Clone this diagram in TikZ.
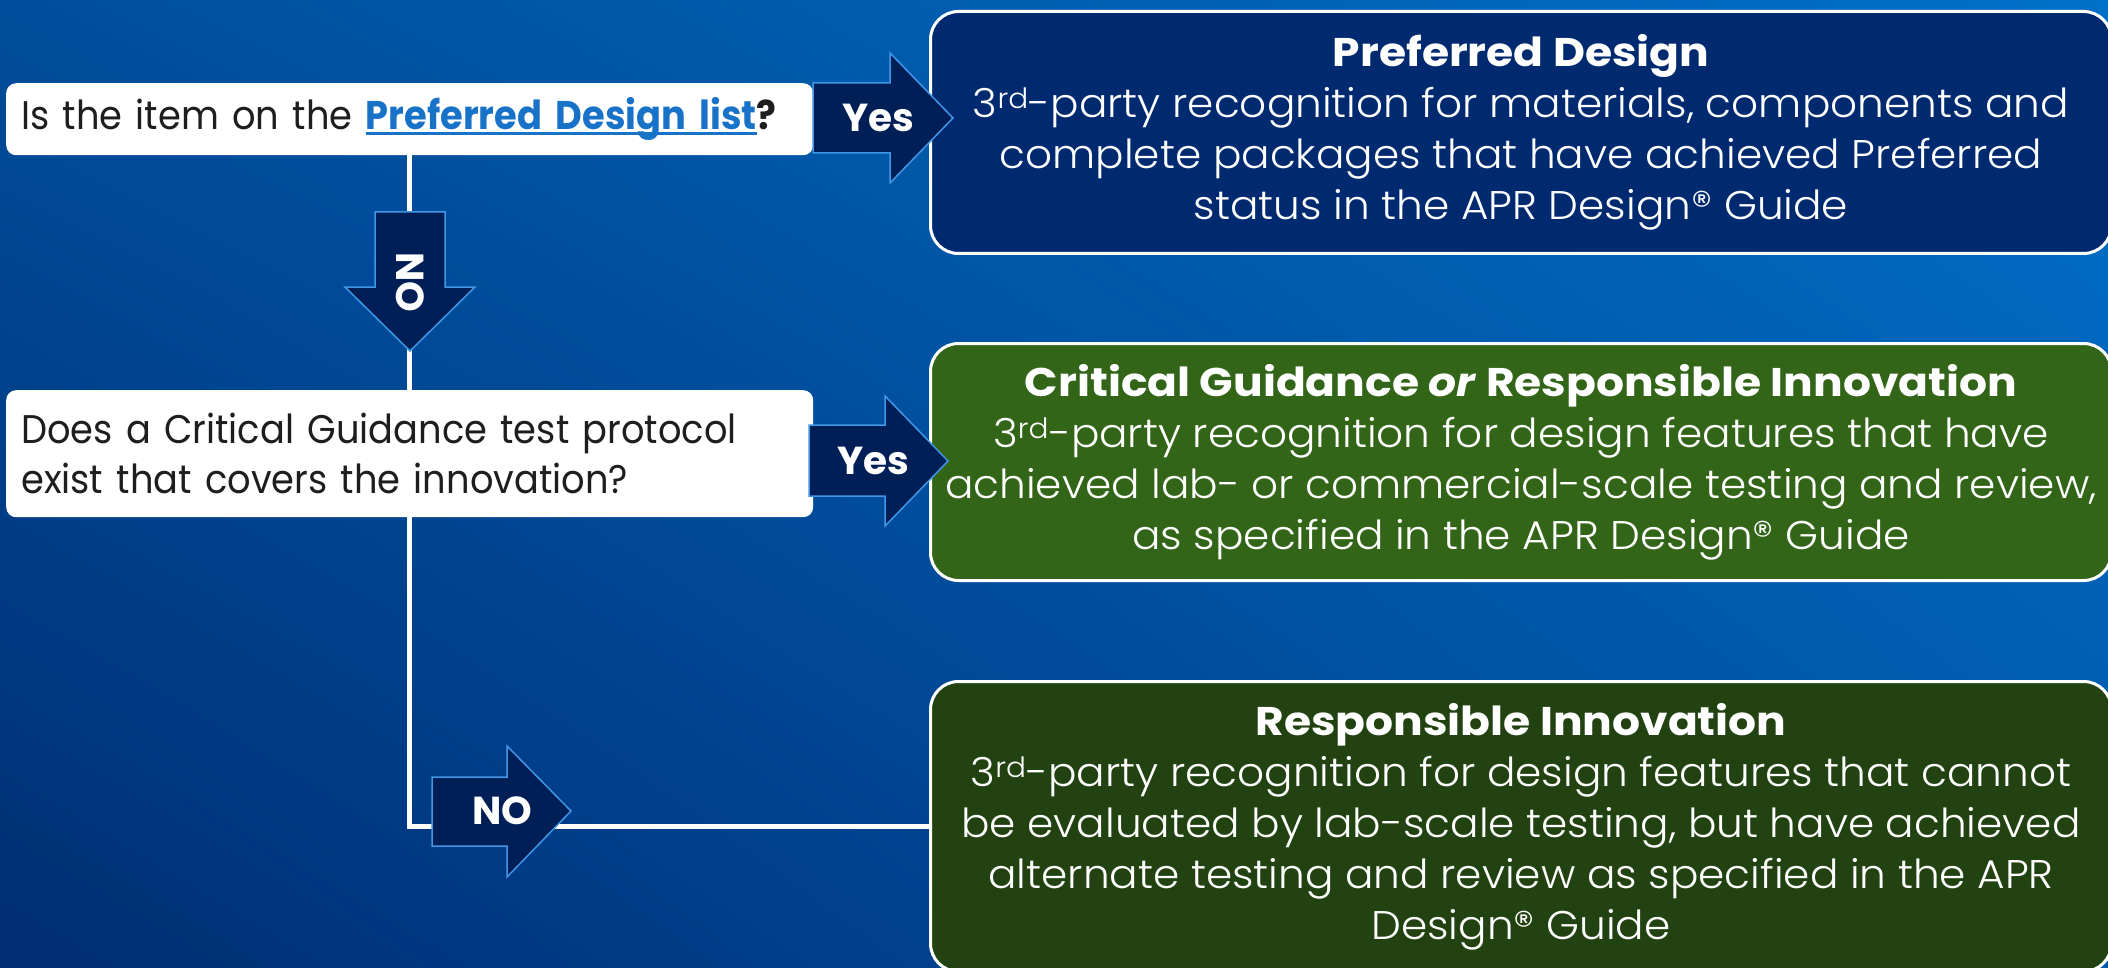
\documentclass[tikz,border=0pt]{standalone}
\usepackage{fontspec}
\setmainfont{Poppins}
\newfontfamily\qfont{Poppins}[FakeStretch=0.92]
\IfFontExistsTF{Poppins Light}
  {\newfontfamily\rfont{Poppins Light}[FakeStretch=1.055]}
  {\newfontfamily\rfont{Poppins}[FakeStretch=1.055]}
\newfontfamily\tfont{Poppins}[FakeStretch=1.1]
\usetikzlibrary{backgrounds,shadings}
\pgfdeclarelayer{bg}
\pgfsetlayers{bg,background,main}
\newcommand\lnkline[1]{\setbox0=\hbox{#1}\rlap{\rule[-5pt]{\wd0}{2.5pt}}\box0}
\newcommand\rdsup{\textsuperscript{rd}}
\definecolor{bgTL}{RGB}{0,78,155}
\definecolor{bgTR}{RGB}{0,112,200}
\definecolor{bgBL}{RGB}{0,45,115}
\definecolor{bgBR}{RGB}{0,88,172}
\definecolor{navybox}{RGB}{0,42,112}
\definecolor{greenbox}{RGB}{51,101,24}
\definecolor{dkgreenbox}{RGB}{34,67,17}
\definecolor{arrowfillc}{RGB}{0,31,86}
\definecolor{arrowedge}{RGB}{66,150,230}
\definecolor{linkblue}{RGB}{24,114,200}
\definecolor{qtext}{RGB}{30,30,30}
\tikzset{
  qbox/.style={fill=white, rounded corners=10, anchor=north west, minimum width=807,
    inner xsep=15, text width=777, align=left, text=qtext,
    font=\qfont\fontsize{40}{50}\selectfont},
  rbox/.style={draw=white, line width=3, rounded corners=28, anchor=north west,
    minimum width=1181, text=white, align=center,
    font=\rfont\fontsize{40}{51}\selectfont},
  conn/.style={draw=white, line width=5},
  barrow/.style={fill=arrowfillc, draw=arrowedge, line width=1.5, line join=miter},
  alabel/.style={text=white, font=\fontsize{39}{40}\selectfont\bfseries, inner sep=0}
}
\begin{document}
\begin{tikzpicture}[x=1pt,y=-1pt]
\useasboundingbox (0,0) rectangle (2108,968);
\begin{pgfonlayer}{bg}
\shade[upper left=bgTL, upper right=bgTR, lower left=bgBL, lower right=bgBR] (0,0) rectangle (2108,968);
\end{pgfonlayer}
% question boxes
\node[qbox, minimum height=72] (q1) at (6,83)
  {Is the item on the \textcolor{linkblue}{\bfseries\lnkline{Preferred Design list}}\textbf{?}};
\node[qbox, minimum height=127] (q2) at (6,390)
  {Does a Critical Guidance test protocol\\exist that covers the innovation?};
% result boxes
\node[rbox, fill=navybox, minimum height=242] (r1) at (929,10)
  {{\tfont\bfseries Preferred Design}\\
   3\rdsup-party recognition for materials, components and\\
   complete packages that have achieved Preferred\\
   status in the APR Design® Guide};
\node[rbox, fill=greenbox, minimum height=237] (r2) at (929,342)
  {{\tfont\bfseries Critical Guidance \textit{or} Responsible Innovation}\\
   3\rdsup-party recognition for design features that have\\
   achieved lab- or commercial-scale testing and review,\\
   as specified in the APR Design® Guide};
\node[rbox, fill=dkgreenbox, minimum height=290] (r3) at (929,680)
  {{\tfont\bfseries Responsible Innovation}\\
   3\rdsup-party recognition for design features that cannot\\
   be evaluated by lab-scale testing, but have achieved\\
   alternate testing and review as specified in the APR\\
   Design® Guide};
% connector behind boxes
\begin{pgfonlayer}{background}
\draw[conn] (q1.south) |- (r3.west);
\end{pgfonlayer}
% block arrows
\path[barrow] (813,83) -- (890,83) -- (890,53) -- (953,118) -- (890,183) -- (890,153) -- (813,153) -- cycle;
\node[alabel] (yes1) at (878,118) {Yes};
\path[barrow] (809,425) -- (885,425) -- (885,396) -- (948,461) -- (885,526) -- (885,496) -- (809,496) -- cycle;
\node[alabel] (yes2) at (873,461) {Yes};
\path[barrow] (375,212) -- (445,212) -- (445,287) -- (475,287) -- (410,351) -- (345,287) -- (375,287) -- cycle;
\node[alabel, rotate=-90] (no1) at (410,282) {NO};
\path[barrow] (432,777) -- (507,777) -- (507,746) -- (571,811) -- (507,877) -- (507,846) -- (432,846) -- cycle;
\node[alabel] (no2) at (502,811) {NO};
\end{tikzpicture}
\end{document}
